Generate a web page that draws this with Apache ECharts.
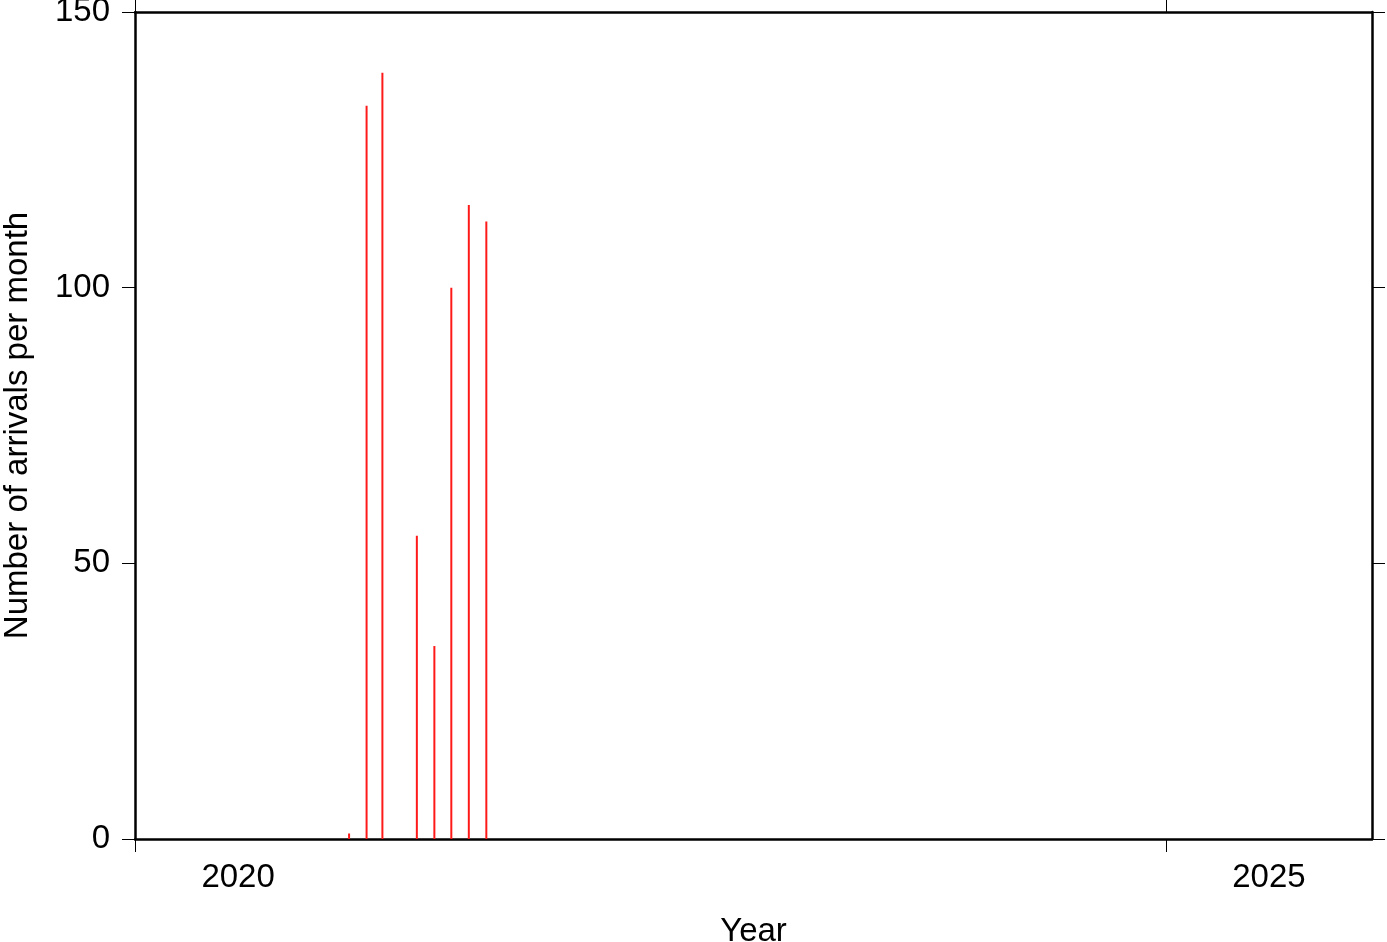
<!DOCTYPE html>
<html>
<head>
<meta charset="utf-8">
<script src="https://cdn.jsdelivr.net/npm/echarts@6/dist/echarts.min.js"></script>
<style>
html,body{margin:0;padding:0;background:#fff;}
#chart{width:1387px;height:942px;}
</style>
</head>
<body>
<div id="chart"></div>
<script>
// Monthly arrivals (bars drawn at the 15th of each month)
var months = ['2021-01', '2021-02', '2021-03', '2021-05', '2021-06', '2021-07', '2021-08', '2021-09'];
var arrivals = [1, 133, 139, 55, 35, 100, 115, 112];
var yearTicks = [2020, 2025];
var yTicks = [0, 50, 100, 150];

function toYearFrac(ym) {
  var p = ym.split('-');
  var y = +p[0], m = +p[1];
  var t = Date.UTC(y, m - 1, 15);
  var s = Date.UTC(y, 0, 1), e = Date.UTC(y + 1, 0, 1);
  return y + (t - s) / (e - s);
}
var data = months.map(function (m, i) { return [toYearFrac(m), arrivals[i]]; });
var labelPos = yearTicks.map(function (y) { return y + 0.5; });

var FONT = 'Liberation Sans, Arial, Helvetica, sans-serif';
var FS = 33;
var AXW = 2.5;
var chart = echarts.init(document.getElementById('chart'));
chart.setOption({
  animation: false,
  backgroundColor: '#fff',
  grid: { left: 135, right: 15, top: 12, bottom: 103, containLabel: false, outerBoundsMode: 'none' },
  xAxis: [{
    type: 'value', min: 2020, max: 2026, position: 'bottom',
    name: 'Year', nameLocation: 'middle', nameGap: 76,
    nameTextStyle: { fontFamily: FONT, fontSize: FS, color: '#000' },
    axisLine: { show: true, onZero: false, lineStyle: { color: '#000', width: AXW } },
    axisTick: { show: true, inside: false, length: 13, customValues: yearTicks, lineStyle: { color: '#000', width: 1 } },
    axisLabel: { show: true, customValues: labelPos, margin: 22, fontFamily: FONT, fontSize: FS, color: '#000',
      formatter: function (v) { return String(Math.floor(v)); } },
    splitLine: { show: false }
  }, {
    type: 'value', min: 2020, max: 2026, position: 'top',
    axisLine: { show: true, onZero: false, lineStyle: { color: '#000', width: AXW } },
    axisTick: { show: true, inside: false, length: 13, customValues: yearTicks, lineStyle: { color: '#000', width: 1 } },
    axisLabel: { show: false },
    splitLine: { show: false }
  }],
  yAxis: [{
    type: 'value', min: 0, max: 150, interval: 50, position: 'left',
    name: 'Number of arrivals per month', nameLocation: 'middle', nameGap: 101, nameRotate: 90,
    nameTextStyle: { fontFamily: FONT, fontSize: FS, color: '#000' },
    axisLine: { show: true, onZero: false, lineStyle: { color: '#000', width: AXW } },
    axisTick: { show: true, inside: false, length: 13, lineStyle: { color: '#000', width: 1 } },
    axisLabel: { show: true, margin: 25, fontFamily: FONT, fontSize: FS, color: '#000' },
    splitLine: { show: false }
  }, {
    type: 'value', min: 0, max: 150, interval: 50, position: 'right',
    axisLine: { show: true, onZero: false, lineStyle: { color: '#000', width: AXW } },
    axisTick: { show: true, inside: false, length: 13, lineStyle: { color: '#000', width: 1 } },
    axisLabel: { show: false },
    splitLine: { show: false }
  }],
  series: [{
    type: 'bar', xAxisIndex: 0, yAxisIndex: 0,
    data: data, barWidth: 2,
    itemStyle: { color: '#ff1a1a' }
  }]
});
</script>
</body>
</html>
